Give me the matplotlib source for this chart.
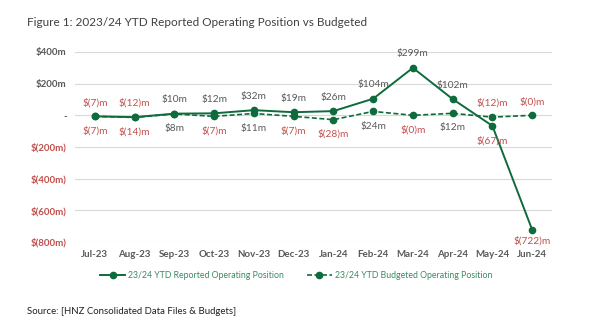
import matplotlib
matplotlib.use("Agg")
import matplotlib.pyplot as plt
from matplotlib.lines import Line2D

plt.rcParams['font.family'] = ['Lato', 'DejaVu Sans']

# data
months = ["Jul-23", "Aug-23", "Sep-23", "Oct-23", "Nov-23", "Dec-23",
          "Jan-24", "Feb-24", "Mar-24", "Apr-24", "May-24", "Jun-24"]
reported = [-7, -12, 10, 12, 32, 19, 26, 104, 299, 102, -67, -722]
budgeted = [-7, -14, 8, -7, 11, -7, -28, 24, -0.4, 12, -12, -0.4]
yticks = [400, 200, 0, -200, -400, -600, -800]

green = "#0E6B3C"
grey = "#595959"
red = "#C0504D"


def money(v):
    r = int(round(v))
    if v < 0:
        return "$(%d)m" % abs(r)
    return "$%dm" % r


def tick_label(v):
    if v == 0:
        return "-"
    if v < 0:
        return "$(%dm)" % abs(v)
    return "$%dm" % v


fig = plt.figure(figsize=(6, 3.24), dpi=100)
ax = fig.add_axes([0.125, 0.253, 0.795, 0.587])

x = list(range(len(months)))
ax.plot(x, reported, color=green, lw=1.4, marker="o", ms=4.5, zorder=3)
ax.plot(x, budgeted, color=green, lw=1.2, ls=(0, (3, 1.5)), marker="o", ms=4.5, zorder=3)

# point labels: reported above except where it drops below budget
for i in x:
    r, b = reported[i], budgeted[i]
    r_above = r >= b or i < 2
    for v, above in ((r, r_above), (b, not r_above)):
        off = 10 if above else -10.5
        if i == 11 and v < -700:
            off = -8
        ax.annotate(money(v), (i, v), xytext=(0, off), textcoords="offset points",
                    ha="center", va="center", fontsize=7.3,
                    color=red if v < 0 else grey)

ax.set_xlim(-0.5, 11.5)
ax.set_ylim(-800, 400)
ax.set_yticks(yticks)
ax.set_yticklabels([tick_label(v) for v in yticks], fontsize=7, fontweight="bold")
for lab, v in zip(ax.get_yticklabels(), yticks):
    lab.set_color(red if v < 0 else grey)
ax.set_xticks(x)
ax.set_xticklabels(months, fontsize=7, fontweight="bold", color=grey)
ax.tick_params(length=0, pad=6)
ax.grid(axis="y", color="#D9D9D9", lw=0.8)
ax.set_axisbelow(True)
for s in ax.spines.values():
    s.set_visible(False)

handles = [Line2D([], [], color=green, lw=1.4, marker="o", ms=4.5),
           Line2D([], [], color=green, lw=1.2, ls=(0, (3, 1.5)), marker="o", ms=4.5)]
fig.legend(handles, ["23/24 YTD Reported Operating Position",
                     "23/24 YTD Budgeted Operating Position"],
           loc="center", bbox_to_anchor=(0.494, 0.15), ncol=2, frameon=False,
           fontsize=6.3, labelcolor="#3A8A64", handlelength=2.8,
           handletextpad=0.4, columnspacing=2.6)

fig.text(0.045, 0.93, "Figure 1: 2023/24 YTD Reported Operating Position vs Budgeted",
         fontsize=8.5, color="#404040", va="center")
fig.text(0.045, 0.04, "Source: [HNZ Consolidated Data Files & Budgets]",
         fontsize=6.9, color="#202020", va="center")

fig.savefig("out.png", dpi=100, facecolor="white")
